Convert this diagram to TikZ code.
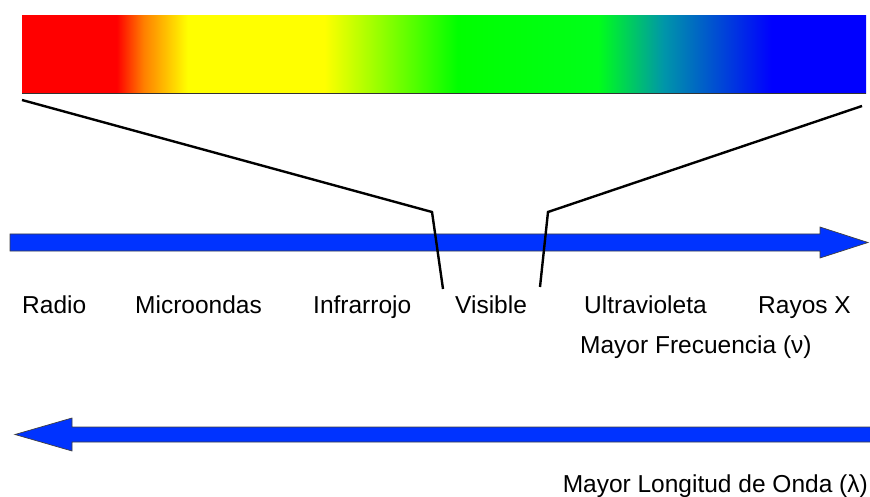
\documentclass[tikz,border=0pt]{standalone}
\usepackage{fontspec}
\setmainfont{Liberation Sans}
\usetikzlibrary{positioning}

\definecolor{specblue}{RGB}{0,51,255}
\pgfdeclarehorizontalshading{spectrum}{100bp}{%
  color(0bp)=(red);
  color(25bp)=(red);
  color(30.6bp)=(red);
  color(32.2bp)=(orange);
  color(34.8bp)=(yellow);
  color(42.9bp)=(yellow);
  color(50.8bp)=(green);
  color(59.1bp)=(green!90!cyan);
  color(63bp)=(green!45!blue!75!cyan);
  color(69.4bp)=(blue);
  color(75bp)=(blue);
  color(100bp)=(blue)}

\tikzset{
  bigarrow/.style={fill=specblue, draw=black!75, line width=0.7pt, line join=miter},
  zoomline/.style={draw=black, line width=2.4pt},
  band/.style={font=\fontsize{24.5}{28}\selectfont, inner sep=0pt, anchor=base west}
}

\begin{document}
\begin{tikzpicture}[x=1pt,y=-1pt]
  \useasboundingbox (0,0) rectangle (870,497);
  % spectrum bar
  \node[shading=spectrum, minimum width=844pt, minimum height=78pt, inner sep=0pt,
    anchor=north west] (spec) at (22,15) {};
  \draw[black!80, line width=1.6pt] (spec.south west) -- (spec.south east);
  % arrows
  \draw[bigarrow] (10,234) -- (820,234) -- (820,227) -- (868,242.5)
    -- (820,258) -- (820,251) -- (10,251) -- cycle;
  \draw[bigarrow] (870,427) -- (72,427) -- (72,418) -- (15,434.5)
    -- (72,451) -- (72,442) -- (870,442);
  % zoom lines
  \coordinate (lt) at (22,100);
  \coordinate (lk) at (432,212);
  \coordinate (lb) at (443,289);
  \coordinate (rt) at (862,106);
  \coordinate (rk) at (548,212);
  \coordinate (rb) at (540,287);
  \draw[zoomline] (lt) -- (lk) -- (lb);
  \draw[zoomline] (rt) -- (rk) -- (rb);
  % labels
  \node[band] (radio) at (22,313) {Radio};
  \node[band] (micro) at (135,313) {Microondas};
  \node[band] (infra) at (313,313) {Infrarrojo};
  \node[band] (vis) at (455,313) {Visible};
  \node[band] (uv) at (584,313) {Ultravioleta};
  \node[band] (xray) at (758,313) {Rayos X};
  \node[band] (freq) at (580,353) {Mayor Frecuencia (ν)};
  \node[band, anchor=base east] (wave) at (868,492) {Mayor Longitud de Onda (λ)};
\end{tikzpicture}
\end{document}
